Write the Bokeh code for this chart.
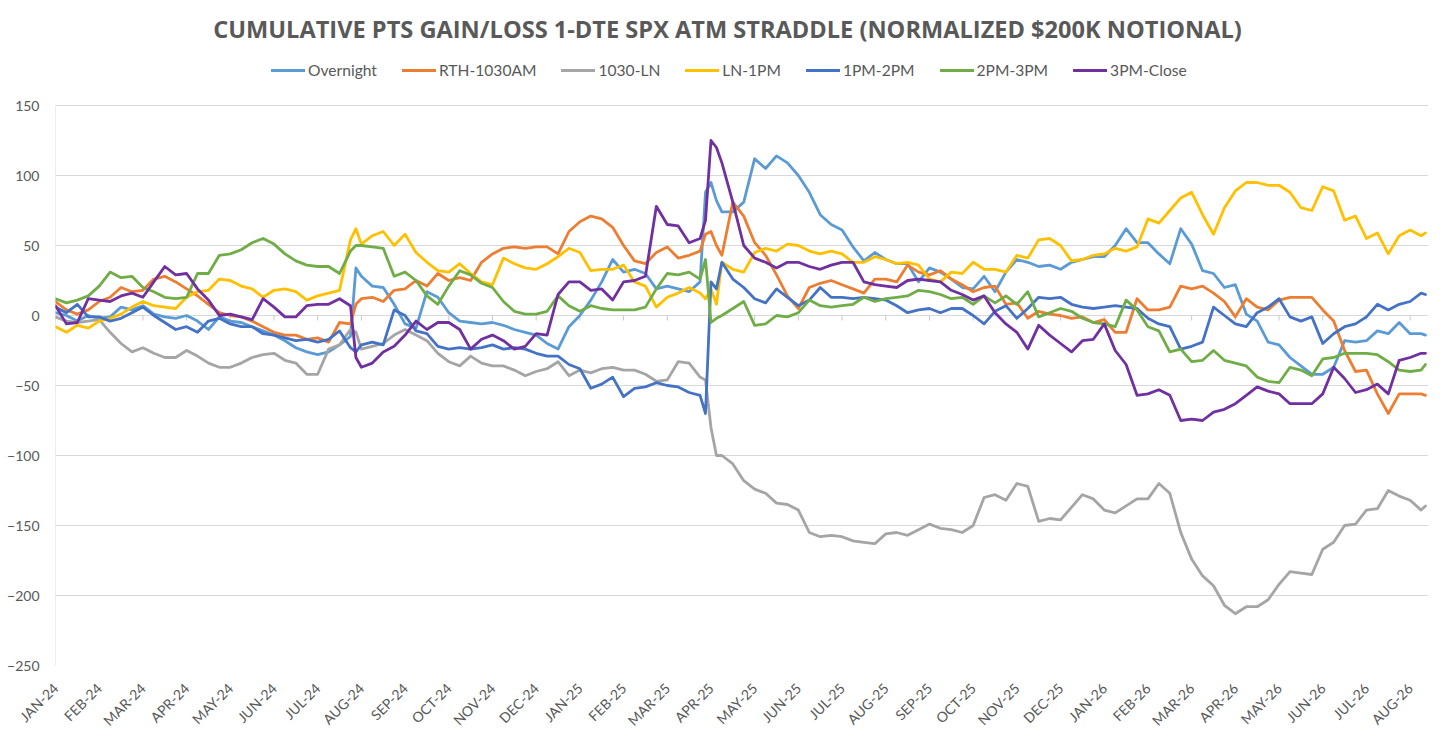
import numpy as np
from bokeh.plotting import figure
from bokeh.models import Range1d, FixedTicker, Label, Legend, LegendItem
from bokeh.embed import file_html
from bokeh.resources import INLINE

TITLE = "CUMULATIVE PTS GAIN/LOSS 1-DTE SPX ATM STRADDLE (NORMALIZED $200K NOTIONAL)"

TICK_LABELS = ["JAN-24", "FEB-24", "MAR-24", "APR-24", "MAY-24", "JUN-24", "JUL-24", "AUG-24",
               "SEP-24", "OCT-24", "NOV-24", "DEC-24", "JAN-25", "FEB-25", "MAR-25", "APR-25",
               "MAY-25", "JUN-25", "JUL-25", "AUG-25", "SEP-25", "OCT-25", "NOV-25", "DEC-25",
               "JAN-26", "FEB-26", "MAR-26", "APR-26", "MAY-26", "JUN-26", "JUL-26", "AUG-26"]
TICK_POS = list(range(len(TICK_LABELS)))          # months since JAN-24
Y_TICKS = [-250, -200, -150, -100, -50, 0, 50, 100, 150]

# sample positions (months since JAN-24): quarter-month steps plus a few extra points at sharp moves
X_MONTHS = sorted([k + f for k in range(31) for f in (0.0, 0.25, 0.5, 0.75)]
                  + [31.0, 31.25, 31.35] + [6.875, 14.875, 15.125])

OVERNIGHT = [
    2, 0, -4, 0,   -2, -1, 6, 4,   7, 1, -1, -2,   0, -4, -10, -1,
    -4, -5, -8, -11,   -14, -18, -23, -26,   -28, -26, -21, -15, 34,   28, 21, 20, 8,
    -6, -9, 17, 13,   2, -4, -5, -6,   -5, -7, -10, -12,   -14, -20, -24, -8,
    0, 11, 24, 40,   31, 33, 30, 19,   21, 19, 17, 24, 88,   95, 82, 74, 74, 81,
    112, 105, 114, 109,   100, 88, 72, 65,   61, 49, 39, 45,   40, 37, 37, 24,
    34, 31, 26, 20,   19, 28, 17, 31,   40, 38, 35, 36,   33, 38, 40, 42,
    42, 50, 62, 52,   52, 44, 37, 62,   51, 32, 30, 20,   22, 1, -4, -19,
    -21, -30, -36, -42,   -42, -37, -18, -19,   -18, -11, -13, -5,   -13, -13, -14,
]
RTH_1030AM = [
    10, 4, 1, 4,   10, 13, 20, 17,   18, 26, 28, 24,   19, 14, 8, 2,
    0, -1, -4, -8,   -12, -14, -14, -17,   -16, -19, -5, -6, 8,   12, 13, 10, 18,
    19, 25, 21, 30,   25, 27, 25, 38,   44, 48, 49, 48,   49, 49, 44, 60,
    67, 71, 69, 63,   50, 39, 37, 45,   49, 41, 43, 46, 58,   60, 50, 43, 81, 71,
    52, 43, 29, 14,   5, 20, 23, 25,   22, 19, 16, 26,   26, 24, 36, 31,
    29, 32, 26, 22,   17, 20, 21, 8,   9, -2, 3, 1,   0, -2, -1, -5,
    -3, -12, -12, 12,   4, 4, 6, 21,   19, 21, 16, 10,   -1, 12, 6, 4,
    11, 13, 13, 13,   4, -4, -25, -40,   -39, -56, -70, -56,   -56, -56, -57,
]
LN_1030 = [
    -1, -4, -5, -4,   -3, -12, -20, -26,   -23, -27, -30, -30,   -25, -29, -34, -37,
    -37, -34, -30, -28,   -27, -32, -34, -42,   -42, -24, -21, -10, -12,   -24, -22, -20, -14,
    -10, -14, -18, -27,   -33, -36, -29, -34,   -36, -36, -39, -43,   -40, -38, -33, -43,
    -39, -41, -38, -37,   -39, -39, -42, -47,   -46, -33, -34, -44, -46,   -80, -100, -100, -106, -118,
    -124, -127, -134, -135,   -139, -155, -158, -157,   -158, -161, -162, -163,   -156, -155, -157, -153,
    -149, -152, -153, -155,   -150, -130, -128, -132,   -120, -122, -147, -145,   -146, -137, -128, -131,
    -139, -141, -136, -131,   -131, -120, -127, -155,   -174, -186, -193, -207,   -213, -208, -208, -203,
    -192, -183, -184, -185,   -167, -162, -150, -149,   -139, -138, -125, -129,   -132, -139, -136,
]
LN_1PM = [
    -8, -12, -7, -9,   -4, -2, 1, 6,   10, 7, 6, 5,   13, 17, 18, 26,
    25, 21, 19, 13,   18, 19, 17, 11,   14, 16, 18, 54, 62,   51, 57, 60, 50,
    58, 45, 38, 32,   31, 37, 30, 24,   22, 41, 37, 34,   33, 37, 42, 48,
    45, 32, 33, 33,   36, 24, 21, 6,   13, 16, 20, 16, 12,   19, 8, 38, 33, 31,
    45, 48, 46, 51,   50, 46, 44, 46,   44, 38, 38, 42,   40, 37, 38, 36,
    26, 24, 31, 30,   38, 33, 33, 31,   43, 41, 54, 55,   50, 39, 40, 43,
    44, 48, 46, 49,   69, 66, 75, 84,   88, 72, 58, 77,   89, 95, 95, 93,
    93, 88, 77, 75,   92, 89, 68, 71,   55, 59, 44, 57,   61, 57, 59,
]
PM1_2PM = [
    6, 2, 8, -1,   -1, -4, -2, 2,   6, 0, -5, -10,   -8, -12, -4, -2,
    -6, -8, -8, -13,   -14, -16, -18, -17,   -19, -17, -11, -23, -26,   -21, -19, -21, 4,
    0, -11, -13, -22,   -24, -23, -24, -23,   -21, -24, -23, -24,   -27, -29, -29, -35,
    -38, -52, -49, -44,   -58, -52, -51, -48,   -50, -51, -55, -57, -70,   24, 19, 38, 26, 20,
    12, 9, 19, 13,   7, 11, 20, 13,   13, 12, 13, 12,   11, 7, 2, 4,
    5, 2, 5, 5,   0, -6, 3, 7,   -2, 5, 13, 12,   13, 8, 6, 5,
    6, 7, 6, 5,   -2, -6, -8, -24,   -22, -19, 6, 0,   -6, -8, 2, 6,
    12, -1, -4, -1,   -20, -13, -8, -6,   -1, 8, 4, 8,   10, 16, 15,
]
PM2_3PM = [
    12, 9, 11, 14,   21, 31, 27, 28,   20, 17, 13, 12,   13, 30, 30, 43,
    44, 47, 52, 55,   51, 44, 39, 36,   35, 35, 30, 46, 50,   50, 49, 48, 28,
    31, 25, 14, 8,   21, 32, 29, 23,   20, 10, 3, 1,   1, 3, 14, 7,
    3, 7, 5, 4,   4, 4, 6, 19,   30, 29, 31, 26, 40,   -5, -2, 0, 5, 10,
    -7, -6, 0, -1,   2, 11, 7, 6,   7, 8, 13, 10,   12, 13, 14, 18,
    17, 15, 12, 13,   8, 14, 9, 14,   8, 17, -1, 2,   5, 3, -2, -5,
    -6, -8, 11, 4,   -8, -11, -26, -24,   -33, -32, -25, -32,   -34, -36, -44, -47,
    -48, -37, -39, -43,   -31, -30, -27, -27,   -27, -28, -33, -39,   -40, -39, -35,
]
PM3_CLOSE = [
    7, -6, -5, 12,   11, 10, 14, 16,   13, 24, 35, 29,   30, 19, 11, 0,
    1, -1, -3, 12,   6, -1, -1, 7,   8, 8, 12, 7, -30,   -37, -34, -26, -22,
    -14, -4, -10, -5,   -5, -10, -24, -17,   -14, -18, -24, -22,   -13, -14, 15, 24,
    24, 18, 19, 11,   24, 25, 28, 78,   65, 64, 52, 55, 68,   125, 120, 109, 81, 50,
    41, 38, 34, 38,   38, 35, 33, 36,   38, 38, 24, 22,   21, 20, 25, 26,
    25, 24, 18, 15,   11, 14, 2, -6,   -12, -24, -7, -14,   -20, -26, -18, -17,
    -6, -25, -35, -57,   -56, -53, -57, -75,   -74, -75, -69, -67,   -63, -57, -51, -54,
    -56, -63, -63, -63,   -56, -37, -45, -55,   -53, -49, -56, -32,   -30, -27, -27,
]

SERIES_NAMES = ["Overnight", "RTH-1030AM", "1030-LN", "LN-1PM", "1PM-2PM", "2PM-3PM", "3PM-Close"]
SERIES_VALUES = [OVERNIGHT, RTH_1030AM, LN_1030, LN_1PM, PM1_2PM, PM2_3PM, PM3_CLOSE]
SERIES_COLORS = ["#5B9BD5", "#ED7D31", "#A5A5A5", "#FFC000", "#4472C4", "#70AD47", "#7030A0"]

for vals in SERIES_VALUES:
    assert len(vals) == len(X_MONTHS), (len(vals), len(X_MONTHS))

FONT = "Lato"
TITLE_FONT = "Open Sans"
TXT = "#595959"
GRID = "#D9D9D9"

W, H = 1456, 737
LEFT, RIGHT, TOP, BOTTOM = 55, 28, 0, 72
PX_PER_UNIT = 1.4
Y_MIN, Y_MAX = min(Y_TICKS), max(Y_TICKS)
Y_TOP = Y_MAX + 105 / PX_PER_UNIT     # headroom inside the frame for title and legend

p = figure(width=W, height=H, output_backend="svg", toolbar_location=None,
           x_range=Range1d(0, 31.42), y_range=Range1d(Y_MIN, Y_TOP),
           min_border_left=LEFT, min_border_right=RIGHT, min_border_top=TOP, min_border_bottom=BOTTOM)
p.outline_line_color = None
p.background_fill_color = "white"
p.border_fill_color = "white"

# axes
p.xaxis.ticker = FixedTicker(ticks=TICK_POS)
p.xaxis.major_label_overrides = {t: lab for t, lab in zip(TICK_POS, TICK_LABELS)}
p.xaxis.major_label_orientation = np.pi / 4
p.xaxis.axis_line_color = None
p.xaxis.major_tick_line_color = None
p.xaxis.minor_tick_line_color = None
p.xaxis.major_label_standoff = 14
p.xaxis.major_label_text_font = FONT
p.xaxis.major_label_text_font_size = "14px"
p.xaxis.major_label_text_color = TXT

p.yaxis.ticker = FixedTicker(ticks=Y_TICKS)
p.yaxis.axis_line_color = None
p.yaxis.major_tick_line_color = None
p.yaxis.minor_tick_line_color = None
p.yaxis.major_label_standoff = 10
p.yaxis.major_label_text_font = FONT
p.yaxis.major_label_text_font_size = "14px"
p.yaxis.major_label_text_color = TXT

p.xgrid.grid_line_color = None
p.ygrid.ticker = FixedTicker(ticks=Y_TICKS)
p.ygrid.grid_line_color = GRID
p.ygrid.grid_line_width = 1

# vertical axis line spanning only the value range
p.segment(x0=[0], y0=[Y_MIN], x1=[0], y1=[Y_MAX], line_color=GRID, line_width=1)
# small tick marks on the zero line (category axis crossing at 0)
p.segment(x0=TICK_POS, y0=[0] * len(TICK_POS), x1=TICK_POS, y1=[-3.6] * len(TICK_POS),
          line_color="#C8C8C8", line_width=1)

items = []
for name, vals, col in zip(SERIES_NAMES, SERIES_VALUES, SERIES_COLORS):
    r = p.line(X_MONTHS, vals, line_color=col, line_width=2.8, line_join="round", line_cap="round")
    items.append(LegendItem(label=name, renderers=[r]))

frame_h = H - TOP - BOTTOM

legend = Legend(items=items, orientation="horizontal", location=(216, frame_h - 80),
                glyph_width=34, glyph_height=20, label_height=20, label_standoff=3, spacing=25,
                padding=0, margin=0, border_line_alpha=0, background_fill_alpha=0,
                label_text_font=FONT, label_text_font_size="15.6px", label_text_color=TXT)
p.add_layout(legend)

title = Label(x=672, y=frame_h - 28, x_units="screen", y_units="screen", text=TITLE,
              text_align="center", text_baseline="middle", text_font=TITLE_FONT,
              text_font_size="23.6px", text_font_style="bold", text_color=TXT)
p.add_layout(title)

open("out.html", "w").write(file_html(p, INLINE))
